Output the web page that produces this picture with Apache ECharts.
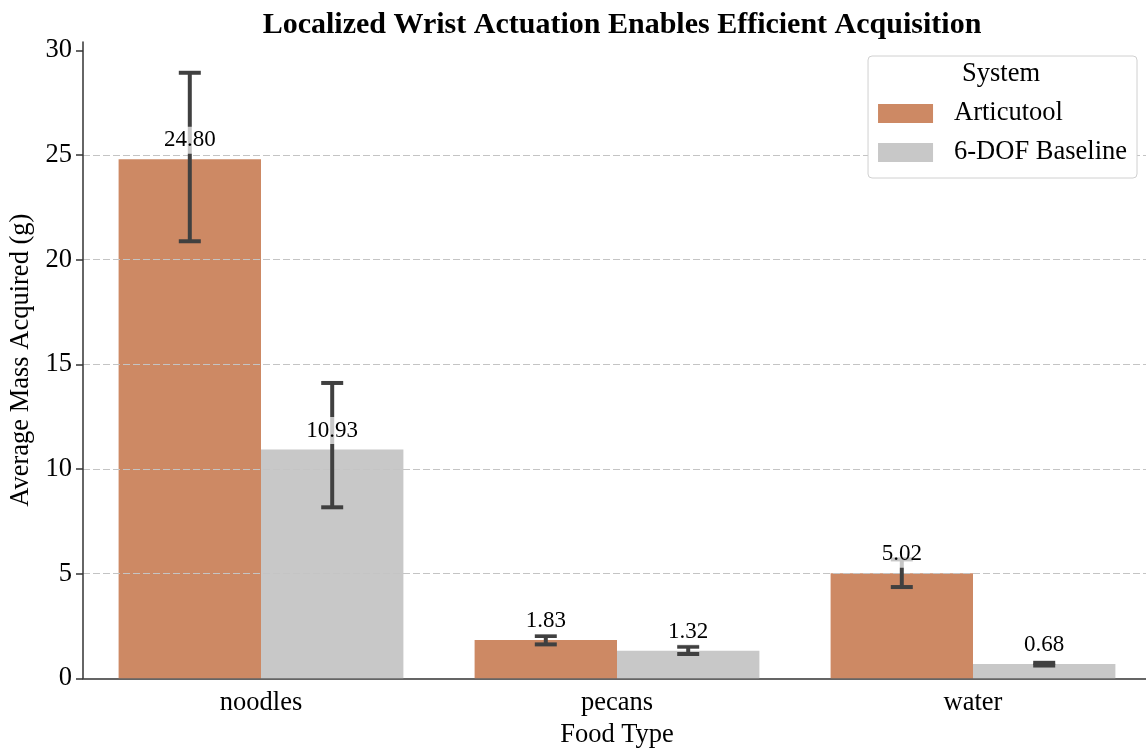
<!DOCTYPE html>
<html>
<head>
<meta charset="utf-8">
<script src="https://cdn.jsdelivr.net/npm/echarts@6/dist/echarts.min.js"></script>
<style>
  html, body { margin: 0; padding: 0; background: #fff; }
  #chart { width: 1146px; height: 749px; }
</style>
</head>
<body>
<div id="chart"></div>
<script>
/** data */
const categories = ["noodles", "pecans", "water"];
const systems = ["Articutool", "6-DOF Baseline"];
const articutool = [24.8, 1.83, 5.02];
const baseline = [10.93, 1.32, 0.68];
const articutoolLow = [20.88, 1.62, 4.36];
const articutoolHigh = [28.93, 2.02, 5.68];
const baselineLow = [8.17, 1.16, 0.61];
const baselineHigh = [14.11, 1.51, 0.74];
const yTicks = [0, 5, 10, 15, 20, 25, 30];

const colors = ["#cd8964", "#c8c8c8"];
const font = '"Liberation Serif", "Times New Roman", serif';
const textSize = 26.5;

/** error bar + value label for one system, offset inside its category band */
const errorSeries = (name, values, low, high, offset) => ({
  type: "custom",
  name,
  z: 5,
  silent: true,
  encode: { x: 0, y: 1 },
  data: values.map((v, i) => [i, v, low[i], high[i]]),
  renderItem: (params, api) => {
    const band = api.size([1, 0])[0];
    const center = api.coord([api.value(0), api.value(1)]);
    const x = center[0] + offset * band;
    const yTop = api.coord([api.value(0), api.value(3)])[1];
    const yBot = api.coord([api.value(0), api.value(2)])[1];
    const cap = 11;
    const stroke = { stroke: "#404040", lineWidth: 4 };
    return {
      type: "group",
      children: [
        { type: "line", shape: { x1: x, y1: yTop, x2: x, y2: yBot }, style: stroke },
        { type: "line", shape: { x1: x - cap, y1: yTop, x2: x + cap, y2: yTop }, style: stroke },
        { type: "line", shape: { x1: x - cap, y1: yBot, x2: x + cap, y2: yBot }, style: stroke },
        {
          type: "text",
          z2: 10,
          style: {
            text: api.value(1).toFixed(2),
            x,
            y: center[1] - 19,
            align: "center",
            verticalAlign: "middle",
            font: "23px " + font,
            fill: "#000",
            backgroundColor: "rgba(255,255,255,0.7)",
            padding: [2, 1],
          },
        },
      ],
    };
  },
});

const chart = echarts.init(document.getElementById("chart"));

const option = {
  animation: false,
  textStyle: { fontFamily: font },
  title: {
    text: "Localized Wrist Actuation Enables Efficient Acquisition",
    left: 617,
    textAlign: "center",
    top: 5,
    textStyle: { fontFamily: font, fontSize: 30, fontWeight: "bold", color: "#000" },
  },
  grid: { left: 83, right: -5, top: 42, bottom: 70.7, outerBoundsMode: "none" },
  legend: {
    data: systems,
    orient: "vertical",
    right: 9,
    top: 56,
    icon: "rect",
    itemWidth: 55,
    itemHeight: 19,
    itemGap: 12,
    padding: [44, 10, 12, 10],
    backgroundColor: "#fff",
    borderColor: "#d0d0d0",
    borderWidth: 1,
    borderRadius: 4,
    textStyle: { fontFamily: font, fontSize: textSize, color: "#000", padding: [0, 0, 0, 16] },
  },
  graphic: [
    {
      type: "text",
      z: 100,
      left: 962,
      top: 61,
      style: { text: "System", font: textSize + "px " + font, fill: "#000" },
    },
  ],
  xAxis: {
    type: "category",
    data: categories,
    name: "Food Type",
    nameLocation: "middle",
    nameGap: 42,
    nameTextStyle: { fontFamily: font, fontSize: textSize, color: "#000" },
    axisLine: { lineStyle: { color: "#333", width: 1.5 } },
    axisTick: { alignWithLabel: true, length: 7, lineStyle: { color: "#333", width: 1.5 } },
    axisLabel: { fontFamily: font, fontSize: textSize, color: "#000", margin: 11 },
  },
  yAxis: {
    type: "value",
    min: 0,
    max: 30.4,
    interval: 5,
    z: 3,
    name: "Average Mass Acquired (g)",
    nameLocation: "middle",
    nameGap: 43,
    nameTextStyle: { fontFamily: font, fontSize: textSize, color: "#000" },
    axisLine: { show: true, lineStyle: { color: "#333", width: 1.5 } },
    axisTick: { show: true, length: 7, customValues: yTicks, lineStyle: { color: "#333", width: 1.5 } },
    axisLabel: { fontFamily: font, fontSize: textSize, color: "#000", margin: 11, customValues: yTicks },
    splitLine: {
      show: true,
      showMinLine: false,
      showMaxLine: false,
      lineStyle: { color: "#c4c4c4", type: [7, 3], width: 1 },
    },
  },
  series: [
    {
      type: "bar",
      name: systems[0],
      data: articutool,
      barGap: "0%",
      barCategoryGap: "20%",
      itemStyle: { color: colors[0] },
      z: 2,
    },
    {
      type: "bar",
      name: systems[1],
      data: baseline,
      itemStyle: { color: colors[1] },
      z: 2,
    },
    errorSeries(systems[0], articutool, articutoolLow, articutoolHigh, -0.2),
    errorSeries(systems[1], baseline, baselineLow, baselineHigh, 0.2),
  ],
};

chart.setOption(option);
</script>
</body>
</html>
